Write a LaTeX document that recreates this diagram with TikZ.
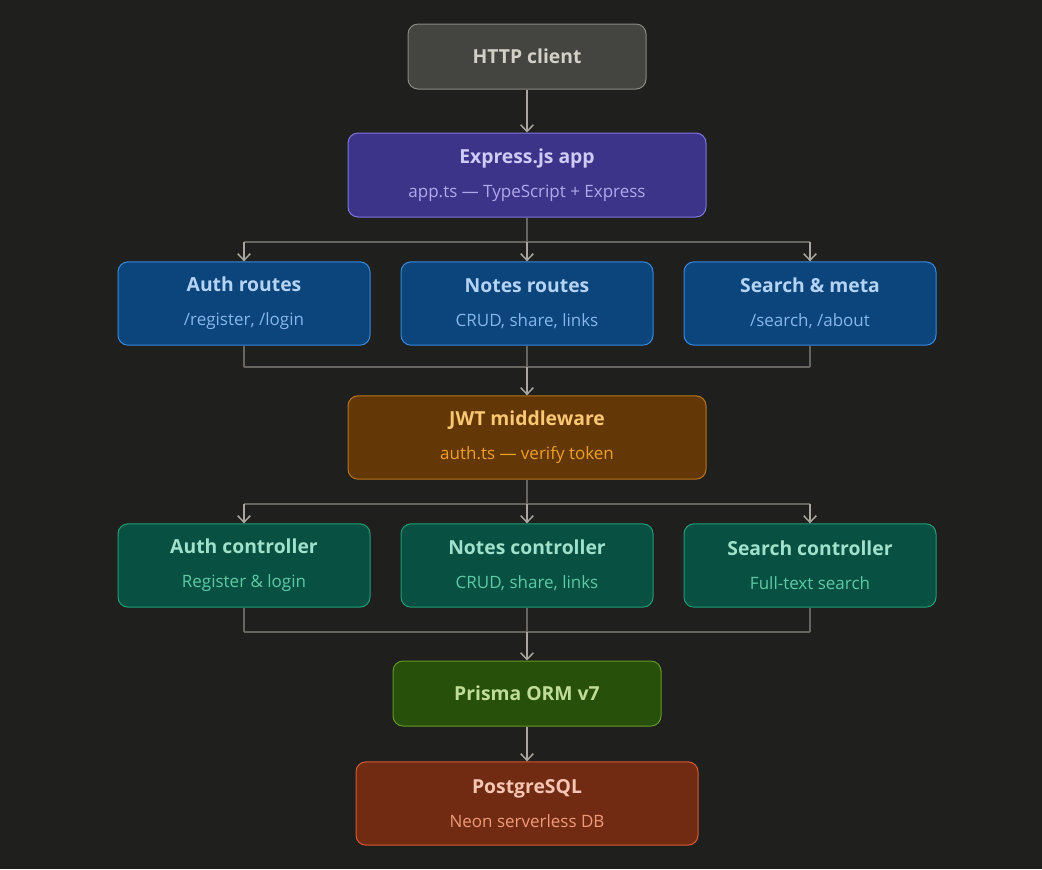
\documentclass[tikz,border=0pt]{standalone}
\usepackage{fontspec}
\setmainfont{Open Sans}
\newcommand{\titlefont}{\bfseries}
\usetikzlibrary{arrows.meta,positioning}
\definecolor{bgDark}{HTML}{1F1F1E}
\definecolor{clientFill}{HTML}{444441}
\definecolor{clientLine}{HTML}{8A8984}
\definecolor{clientText}{HTML}{D3D1C7}
\definecolor{appFill}{HTML}{3C3489}
\definecolor{appLine}{HTML}{7F77DD}
\definecolor{appTitle}{HTML}{CECBF6}
\definecolor{appSub}{HTML}{AFA9EC}
\definecolor{routeFill}{HTML}{0C447C}
\definecolor{routeLine}{HTML}{378ADD}
\definecolor{routeTitle}{HTML}{B5D4F4}
\definecolor{routeSub}{HTML}{85B7EB}
\definecolor{jwtFill}{HTML}{633806}
\definecolor{jwtLine}{HTML}{BA7517}
\definecolor{jwtTitle}{HTML}{FAC775}
\definecolor{jwtSub}{HTML}{EF9F27}
\definecolor{ctrlFill}{HTML}{085041}
\definecolor{ctrlLine}{HTML}{1D9E75}
\definecolor{ctrlTitle}{HTML}{9FE1CB}
\definecolor{ctrlSub}{HTML}{5DCAA5}
\definecolor{ormFill}{HTML}{27500A}
\definecolor{ormLine}{HTML}{639922}
\definecolor{ormTitle}{HTML}{C0DD97}
\definecolor{dbFill}{HTML}{712B13}
\definecolor{dbLine}{HTML}{D85A30}
\definecolor{dbTitle}{HTML}{F5C4B3}
\definecolor{dbSub}{HTML}{F0997B}
\definecolor{wireGray}{HTML}{666560}
\definecolor{arrowGray}{HTML}{A8A69E}
\newcommand{\subline}[2]{{\normalfont\fontsize{12.75}{15}\selectfont\color{#1}#2}}

\begin{document}
\begin{tikzpicture}[x=0.75pt,y=-0.75pt,
  box/.style={draw, rounded corners=7.5pt, line width=0.75pt, align=center,
    font=\titlefont\fontsize{14.5}{18}\selectfont, inner sep=0pt},
  wide/.style={box, minimum width=268.5pt, minimum height=62.5pt},
  tri/.style={box, minimum width=189pt, minimum height=62.5pt},
  clientbox/.style={box, fill=clientFill, draw=clientLine, text=clientText,
    minimum width=178.5pt, minimum height=48.75pt},
  appbox/.style={wide, fill=appFill, draw=appLine, text=appTitle, minimum height=63pt},
  routebox/.style={tri, fill=routeFill, draw=routeLine, text=routeTitle},
  jwtbox/.style={wide, fill=jwtFill, draw=jwtLine, text=jwtTitle},
  ctrlbox/.style={tri, fill=ctrlFill, draw=ctrlLine, text=ctrlTitle},
  ormbox/.style={box, fill=ormFill, draw=ormLine, text=ormTitle,
    minimum width=201pt, minimum height=48.75pt},
  dbbox/.style={box, fill=dbFill, draw=dbLine, text=dbTitle,
    minimum width=256.5pt, minimum height=62.5pt},
  wire/.style={draw=wireGray, line width=1.1pt},
  arr/.style={draw=arrowGray, line width=1.1pt, -{Straight Barb[length=5pt,width=9.5pt]}}]

\fill[bgDark] (0,0) rectangle (1042,869);
\useasboundingbox (0,0) rectangle (1042,869);

% boxes
\node[clientbox] (client) at (527,56.5) {HTTP client};
\node[appbox] (app) at (527,175) {Express.js app\\[7.5pt]\subline{appSub}{app.ts \textemdash\ TypeScript + Express}};

\node[routebox] (authR) at (244,303.5) {Auth routes\\[7.5pt]\subline{routeSub}{/register, /login}};
\node[routebox] (notesR) at (527,303.5) {Notes routes\\[7.5pt]\subline{routeSub}{CRUD, share, links}};
\node[routebox] (searchR) at (810,303.5) {Search \& meta\\[7.5pt]\subline{routeSub}{/search, /about}};

\node[jwtbox] (jwt) at (527,437.5) {JWT middleware\\[7.5pt]\subline{jwtSub}{auth.ts \textemdash\ verify token}};

\node[ctrlbox] (authC) at (244,565.5) {Auth controller\\[7.5pt]\subline{ctrlSub}{Register \& login}};
\node[ctrlbox] (notesC) at (527,565.5) {Notes controller\\[7.5pt]\subline{ctrlSub}{CRUD, share, links}};
\node[ctrlbox] (searchC) at (810,565.5) {Search controller\\[7.5pt]\subline{ctrlSub}{Full-text search}};

\node[ormbox] (orm) at (527,693.5) {Prisma ORM v7};
\node[dbbox] (db) at (527,803.5) {PostgreSQL\\[7.5pt]\subline{dbSub}{Neon serverless DB}};

% split and merge points
\coordinate (fanA) at (527,242);
\coordinate (joinA) at (527,367);
\coordinate (fanB) at (527,504);
\coordinate (joinB) at (527,632);

% connectors
\draw[arr] (client) -- (app);

\draw[wire] (app) -- (fanA);
\draw[wire] (fanA -| authR) -- (fanA -| searchR);
\foreach \n in {authR,notesR,searchR}
  \draw[arr] (fanA -| \n) -- (\n);

\foreach \n in {authR,notesR,searchR}
  \draw[wire] (\n) -- (joinA -| \n);
\draw[wire] (joinA -| authR) -- (joinA -| searchR);
\draw[arr] (joinA) -- (jwt);

\draw[wire] (jwt) -- (fanB);
\draw[wire] (fanB -| authC) -- (fanB -| searchC);
\foreach \n in {authC,notesC,searchC}
  \draw[arr] (fanB -| \n) -- (\n);

\foreach \n in {authC,notesC,searchC}
  \draw[wire] (\n) -- (joinB -| \n);
\draw[wire] (joinB -| authC) -- (joinB -| searchC);
\draw[arr] (joinB) -- (orm);

\draw[arr] (orm) -- (db);
\end{tikzpicture}
\end{document}
